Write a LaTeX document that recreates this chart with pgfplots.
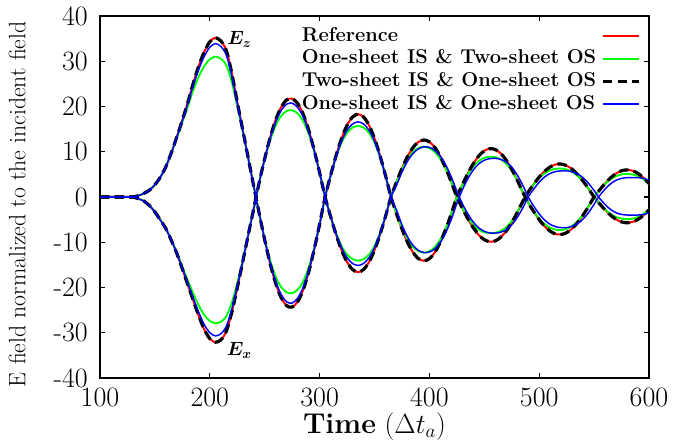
\documentclass[border=0pt]{standalone}
\usepackage{amsmath}
\usepackage{fontspec}
\usepackage{pgfplots}
\usepackage{pgfplotstable}
\pgfplotsset{compat=1.18}
\pgfplotstableread{
t ezR ezG ezB exR exG exB
100 0 0 0 0 0 0
105 0 0 0 0 0 0
110 0 0 0 0 0 0
115 0 0 0 0 0 0
120 0 0 0 0 0 0
125 0 0 0 0 0 0
130 0 0 0 0 0 0
135 0.3 0.3 0.3 -0.4 -0.4 -0.4
140 0.8 0.8 0.8 -0.9 -0.9 -0.9
145 1.5 1.5 1.5 -1.9 -1.9 -1.9
150 2.7 2.7 2.7 -3.3 -3.3 -3.3
155 4.4 4.4 4.4 -5.1 -5.08 -5.1
160 6.7 6.67 6.7 -7.0 -6.96 -7.0
165 9.8 9.71 9.77 -9.6 -9.49 -9.56
170 13.3 13.07 13.23 -12.5 -12.25 -12.42
175 17.0 16.53 16.85 -15.9 -15.39 -15.73
180 20.9 20.02 20.63 -19.4 -18.47 -19.09
185 25.2 23.66 24.72 -22.9 -21.37 -22.39
190 29.0 26.66 28.27 -26.3 -23.99 -25.52
195 32.1 28.93 31.11 -29.3 -26.10 -28.23
200 34.3 30.43 33.09 -31.3 -27.40 -29.99
205 35.2 31.01 33.90 -32.1 -27.90 -30.69
210 34.5 30.56 33.27 -31.6 -27.59 -30.25
215 32.4 29.14 31.38 -29.7 -26.37 -28.58
220 27.4 25.43 26.79 -25.5 -23.39 -24.79
225 21.0 20.11 20.72 -20.1 -19.07 -19.75
230 14.8 14.49 14.70 -14.3 -13.93 -14.18
235 8.6 8.54 8.58 -8.4 -8.33 -8.38
240 2.4 2.4 2.4 -2.6 -2.6 -2.6
245 -3.64 -3.63 -3.63 3.25 3.24 3.24
250 -9.47 -9.29 -9.41 8.46 8.31 8.40
255 -14.74 -14.05 -14.54 13.17 12.60 12.95
260 -19.08 -17.60 -18.65 17.05 15.81 16.57
265 -22.23 -19.89 -21.55 19.86 17.90 19.10
270 -24.03 -21.07 -23.17 21.47 18.99 20.51
275 -24.33 -21.25 -23.43 21.73 19.16 20.74
280 -23.13 -20.49 -22.36 20.67 18.46 19.81
285 -20.52 -18.68 -19.98 18.33 16.79 17.74
290 -16.62 -15.64 -16.33 14.85 14.03 14.53
295 -11.66 -11.32 -11.57 10.42 10.14 10.31
300 -6.03 -5.98 -6.01 5.38 5.35 5.37
305 0 0 0 0 0 0
310 4.74 4.69 4.71 -4.30 -4.25 -4.27
315 9.15 8.82 8.94 -8.30 -7.98 -8.12
320 12.94 12.02 12.34 -11.74 -10.83 -11.21
325 15.85 14.16 14.74 -14.38 -12.72 -13.42
330 17.68 15.33 16.14 -16.03 -13.73 -14.70
335 18.3 15.70 16.60 -16.6 -14.04 -15.12
340 17.68 15.33 16.14 -16.03 -13.73 -14.70
345 15.85 14.16 14.74 -14.38 -12.72 -13.42
350 12.94 12.02 12.34 -11.74 -10.83 -11.21
355 9.15 8.82 8.94 -8.30 -7.98 -8.12
360 4.74 4.69 4.71 -4.30 -4.25 -4.27
365 0 0 0 0 0 0
370 -3.65 -3.62 -2.87 3.26 3.23 2.57
375 -7.05 -6.82 -6.14 6.30 6.11 5.50
380 -9.97 -9.33 -8.79 8.91 8.38 7.89
385 -12.21 -11.04 -10.67 10.91 9.94 9.60
390 -13.62 -11.99 -11.80 12.17 10.82 10.64
395 -14.1 -12.30 -12.27 12.6 11.10 11.08
400 -13.62 -11.99 -12.15 12.17 10.82 10.97
405 -12.21 -11.04 -11.43 10.91 9.94 10.30
410 -9.97 -9.33 -10.01 8.91 8.38 9.00
415 -7.05 -6.82 -7.83 6.30 6.11 7.02
420 -3.65 -3.62 -4.91 3.26 3.23 4.39
425 0 0 -1.45 0 0 1.29
430 2.68 2.65 1.59 -2.48 -2.45 -1.47
435 5.19 4.99 4.03 -4.80 -4.59 -3.73
440 7.37 6.78 5.99 -6.82 -6.20 -5.56
445 9.08 7.98 7.34 -8.40 -7.24 -6.83
450 10.21 8.65 8.12 -9.44 -7.79 -7.58
455 10.69 8.90 8.48 -9.89 -7.99 -7.93
460 10.48 8.79 8.54 -9.70 -7.91 -7.99
465 9.61 8.31 8.31 -8.89 -7.51 -7.77
470 8.12 7.34 7.72 -7.51 -6.68 -7.20
475 6.11 5.77 6.61 -5.65 -5.30 -6.14
480 3.72 3.64 4.88 -3.44 -3.36 -4.52
485 1.08 1.08 2.61 -1.00 -1.00 -2.42
490 -1.24 -1.23 0 1.09 1.08 0
495 -3.22 -3.16 -2.00 2.83 2.77 1.75
500 -5.01 -4.79 -3.75 4.41 4.19 3.28
505 -6.49 -6.01 -5.12 5.71 5.23 4.45
510 -7.56 -6.81 -6.04 6.65 5.89 5.21
515 -8.18 -7.22 -6.56 7.19 6.24 5.62
520 -8.28 -7.29 -6.78 7.28 6.29 5.79
525 -7.87 -7.02 -6.76 6.92 6.07 5.77
530 -6.98 -6.39 -6.48 6.14 5.54 5.56
535 -5.65 -5.34 -5.89 4.97 4.66 5.09
540 -3.97 -3.86 -4.88 3.49 3.38 4.25
545 -2.05 -2.04 -3.43 1.80 1.79 3.00
550 0 0 -1.61 0 0 1.41
555 1.55 1.54 0.30 -1.48 -1.46 -0.29
560 3.00 2.89 1.75 -2.85 -2.75 -1.66
565 4.24 3.92 2.92 -4.03 -3.75 -2.76
570 5.20 4.61 3.70 -4.94 -4.42 -3.48
575 5.80 4.98 4.11 -5.51 -4.79 -3.85
580 6.00 5.10 4.27 -5.70 -4.90 -3.98
585 5.80 4.98 4.30 -5.51 -4.79 -4.00
590 5.20 4.61 4.27 -4.94 -4.42 -3.98
595 4.24 3.92 4.11 -4.03 -3.75 -3.85
600 3.00 2.89 3.70 -2.85 -2.75 -3.48
}\data

\begin{document}
\begin{tikzpicture}
\begin{axis}[
  name=ax,
  scale only axis,
  width=411.75pt, height=271.5pt,
  xmin=100, xmax=600, ymin=-40, ymax=40,
  xtick={100,200,300,400,500,600},
  xticklabels={100,200,300,400,500,600},
  ytick={-40,-30,-20,-10,0,10,20,30,40},
  yticklabels={-40,-30,-20,-10,0,10,20,30,40},
  tick align=inside,
  major tick length=4pt,
  tick style={black, line width=1pt},
  axis line style={line width=1.8pt},
  ticklabel style={font=\fontsize{21}{25}\selectfont},
  yticklabel style={inner sep=0pt, anchor=east},
  xticklabel style={inner sep=0pt, anchor=north},
  yticklabel shift=9pt,
  xticklabel shift=7pt,
  xlabel={\textbf{Time} $(\Delta t_a)$},
  ylabel={E field normalized to the incident field},
  xlabel style={font=\fontsize{21.5}{25}\selectfont, at={(axis description cs:0.5,-0.133)}, anchor=center},
  ylabel style={font=\fontsize{17.8}{21}\selectfont, at={(axis description cs:-0.151,0.48)}, anchor=center},
  legend cell align=left,
  legend plot pos=right,
  legend image code/.code={\draw[#1] (0pt,0pt) -- (27pt,0pt);},
  legend style={at={(rel axis cs:0.367,0.97)}, anchor=north west, draw=none, fill=none, inner sep=0pt,
    font=\fontsize{15}{17}\selectfont\bfseries, row sep=3.5pt, column sep=4pt,
    nodes={inner sep=0pt, text height=10.5pt, text depth=3pt}},
  every axis plot/.append style={line join=round},
]
\addplot[red, line width=1.5pt, smooth] table[x=t, y=ezR] {\data};
\addlegendentry{Reference}
\addplot[red, line width=1.5pt, smooth, forget plot] table[x=t, y=exR] {\data};
\addplot[green, line width=1.4pt, smooth] table[x=t, y=ezG] {\data};
\addlegendentry{One-sheet IS \& Two-sheet OS}
\addplot[green, line width=1.4pt, smooth, forget plot] table[x=t, y=exG] {\data};
\addplot[black, line width=2.4pt, dash pattern=on 7pt off 4pt, smooth] table[x=t, y=ezR] {\data};
\addlegendentry{Two-sheet IS \& One-sheet OS}
\addplot[black, line width=2.4pt, dash pattern=on 7pt off 4pt, smooth, forget plot] table[x=t, y=exR] {\data};
\addplot[blue, line width=1.1pt, smooth] table[x=t, y=ezB] {\data};
\addlegendentry{One-sheet IS \& One-sheet OS}
\addplot[blue, line width=1.1pt, smooth, forget plot] table[x=t, y=exB] {\data};
\node at (axis cs:227,34.9) {\fontsize{14}{16}\selectfont$\boldsymbol{E_z}$};
\node at (axis cs:227,-34.0) {\fontsize{14}{16}\selectfont$\boldsymbol{E_x}$};
\end{axis}
\pgfresetboundingbox
\path[use as bounding box] ([xshift=-75pt,yshift=-51.75pt]ax.south west) rectangle ([xshift=18.75pt,yshift=12pt]ax.north east);
\end{tikzpicture}
\end{document}
